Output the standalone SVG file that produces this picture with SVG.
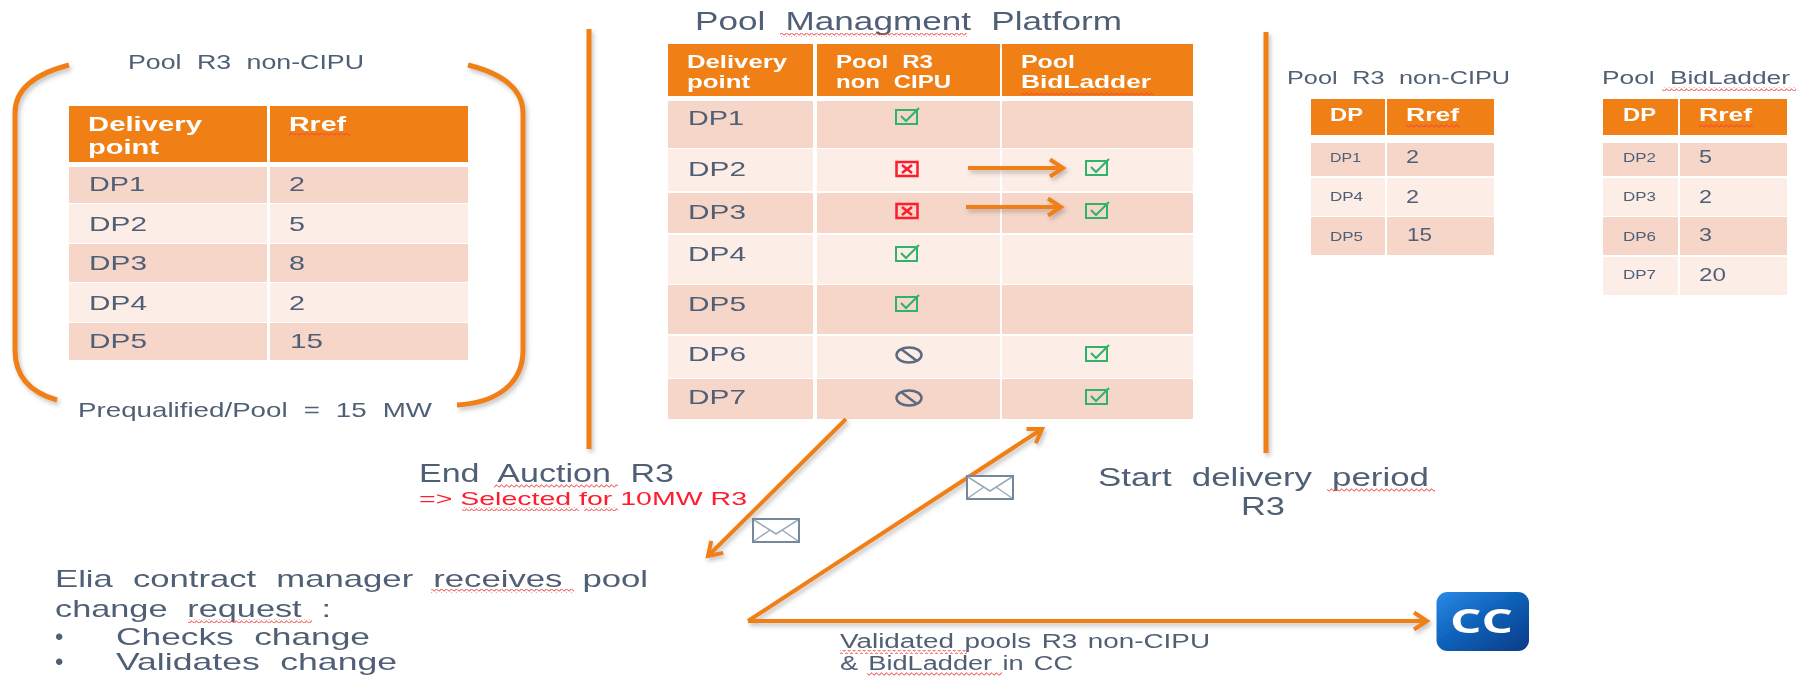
<svg xmlns="http://www.w3.org/2000/svg" width="1801" height="676" viewBox="0 0 1801 676">
<style>
text{font-family:"Liberation Sans",Arial,sans-serif;fill:#505f74;word-spacing:.3em}
.h{fill:#fff;font-weight:bold}
.r{fill:#ff1a2e}
.o{fill:#f08019}
.d{fill:#f7d6ca}
.l{fill:#fcede7}
.ln{fill:none;stroke:#f08019;stroke-width:5}
.a{fill:none;stroke:#f08019;stroke-width:4}
.s{fill:url(#wave)}
.ok{fill:none;stroke:#2fb36a;stroke-width:2}
.no{fill:none;stroke:#ff1a2e;stroke-width:2.5}
.ban{fill:none;stroke:#5c6b80;stroke-width:2.500}
.env{fill:#fff;stroke:#75879b;stroke-width:2}
.env2{fill:none;stroke:#9aa9ba;stroke-width:1.5}
</style>
<defs>
<pattern id="wave" patternUnits="userSpaceOnUse" width="5" height="4"><path d="M0 2.8Q1.25 -.6 2.5 1.6T5 2.8" fill="none" stroke="#f0443f" stroke-width="1"/></pattern>
<marker id="ar" markerUnits="userSpaceOnUse" markerWidth="24" markerHeight="24" refX="17" refY="12" orient="auto"><path d="M4 3.5L17 12L4 20.5" fill="none" stroke="#f08019" stroke-width="4"/></marker>
<filter id="b" x="-5%" y="-5%" width="110%" height="110%"><feGaussianBlur stdDeviation="0.55"/></filter>
<filter id="sh" x="-10%" y="-10%" width="120%" height="120%"><feDropShadow dx="2" dy="3" stdDeviation="2" flood-color="#555" flood-opacity=".35"/></filter>
<linearGradient id="cc" x1="0" y1="0" x2="1" y2="1"><stop offset="0" stop-color="#2a8ae6"/><stop offset=".45" stop-color="#0f63bb"/><stop offset="1" stop-color="#063a86"/></linearGradient>
<path id="okb" d="M-11 -7H10V7H-11ZM-6 -1L-1 4L12 -9"/>
<g id="nob"><rect x="-10.500" y="-7" width="21" height="14" class="no"/><path d="M-5 -4L5 4M5 -4L-5 4" class="no"/></g>
<g id="banb"><ellipse rx="12.500" ry="7.500" class="ban"/><path d="M-8 -6L8 6" class="ban"/></g>
<g id="envb"><rect width="46" height="23" class="env"/><path d="M1 1L23 15L45 1M1 22L17 11M45 22L29 11" class="env2"/></g>
</defs>
<g filter="url(#b)">
<g id="table-pool-r3">
<rect class="o" x="69" y="106" width="198" height="56"/><rect class="o" x="270" y="106" width="198" height="56"/>
<rect class="d" x="69" y="167" width="198" height="36"/><rect class="d" x="270" y="167" width="198" height="36"/>
<rect class="l" x="69" y="204" width="198" height="39"/><rect class="l" x="270" y="204" width="198" height="39"/>
<rect class="d" x="69" y="244" width="198" height="38"/><rect class="d" x="270" y="244" width="198" height="38"/>
<rect class="l" x="69" y="283" width="198" height="39"/><rect class="l" x="270" y="283" width="198" height="39"/>
<rect class="d" x="69" y="323" width="198" height="37"/><rect class="d" x="270" y="323" width="198" height="37"/>
<text x="128" y="69" font-size="21" textLength="236" lengthAdjust="spacingAndGlyphs">Pool R3 non-CIPU</text>
<text class="h" x="88" y="131" font-size="21" textLength="114" lengthAdjust="spacingAndGlyphs">Delivery</text>
<text class="h" x="88" y="154" font-size="21" textLength="71" lengthAdjust="spacingAndGlyphs">point</text>
<text class="h" x="289" y="131" font-size="21" textLength="57" lengthAdjust="spacingAndGlyphs">Rref</text>
<rect class="s" x="289" y="133" width="61" height="4"/>
<g font-size="21">
<text x="89" y="191" textLength="56" lengthAdjust="spacingAndGlyphs">DP1</text><text x="289" y="191" textLength="16" lengthAdjust="spacingAndGlyphs">2</text>
<text x="89" y="231" textLength="58" lengthAdjust="spacingAndGlyphs">DP2</text><text x="289" y="231" textLength="16" lengthAdjust="spacingAndGlyphs">5</text>
<text x="89" y="270" textLength="58" lengthAdjust="spacingAndGlyphs">DP3</text><text x="289" y="270" textLength="16" lengthAdjust="spacingAndGlyphs">8</text>
<text x="89" y="310" textLength="58" lengthAdjust="spacingAndGlyphs">DP4</text><text x="289" y="310" textLength="16" lengthAdjust="spacingAndGlyphs">2</text>
<text x="89" y="348" textLength="58" lengthAdjust="spacingAndGlyphs">DP5</text><text x="290" y="348" textLength="33" lengthAdjust="spacingAndGlyphs">15</text>
</g>
<text x="78" y="417" font-size="21" textLength="354" lengthAdjust="spacingAndGlyphs">Prequalified/Pool = 15 MW</text>
</g>
<g id="table-platform">
<text x="695" y="30" font-size="25" textLength="427" lengthAdjust="spacingAndGlyphs">Pool Managment Platform</text>
<rect class="s" x="780" y="33" width="187" height="4"/>
<rect class="o" x="668" y="44" width="145" height="52"/><rect class="o" x="817" y="44" width="183" height="52"/><rect class="o" x="1002" y="44" width="191" height="52"/>
<rect class="d" x="668" y="101" width="145" height="47"/><rect class="d" x="817" y="101" width="183" height="47"/><rect class="d" x="1002" y="101" width="191" height="47"/>
<rect class="l" x="668" y="149" width="145" height="42"/><rect class="l" x="817" y="149" width="183" height="42"/><rect class="l" x="1002" y="149" width="191" height="42"/>
<rect class="d" x="668" y="193" width="145" height="40"/><rect class="d" x="817" y="193" width="183" height="40"/><rect class="d" x="1002" y="193" width="191" height="40"/>
<rect class="l" x="668" y="235" width="145" height="49"/><rect class="l" x="817" y="235" width="183" height="49"/><rect class="l" x="1002" y="235" width="191" height="49"/>
<rect class="d" x="668" y="285" width="145" height="49"/><rect class="d" x="817" y="285" width="183" height="49"/><rect class="d" x="1002" y="285" width="191" height="49"/>
<rect class="l" x="668" y="336" width="145" height="42"/><rect class="l" x="817" y="336" width="183" height="42"/><rect class="l" x="1002" y="336" width="191" height="42"/>
<rect class="d" x="668" y="379" width="145" height="40"/><rect class="d" x="817" y="379" width="183" height="40"/><rect class="d" x="1002" y="379" width="191" height="40"/>
<g font-size="19">
<text class="h" x="687" y="68" textLength="100" lengthAdjust="spacingAndGlyphs">Delivery</text>
<text class="h" x="687" y="88" textLength="63" lengthAdjust="spacingAndGlyphs">point</text>
<text class="h" x="836" y="68" textLength="97" lengthAdjust="spacingAndGlyphs">Pool R3</text>
<text class="h" x="836" y="88" textLength="115" lengthAdjust="spacingAndGlyphs">non CIPU</text>
<text class="h" x="1021" y="68" textLength="54" lengthAdjust="spacingAndGlyphs">Pool</text>
<text class="h" x="1021" y="88" textLength="130" lengthAdjust="spacingAndGlyphs">BidLadder</text>
</g>
<rect class="s" x="1021" y="91" width="133" height="4"/>
<g font-size="21">
<text x="688" y="125" textLength="56" lengthAdjust="spacingAndGlyphs">DP1</text>
<text x="688" y="176" textLength="58" lengthAdjust="spacingAndGlyphs">DP2</text>
<text x="688" y="219" textLength="58" lengthAdjust="spacingAndGlyphs">DP3</text>
<text x="688" y="261" textLength="58" lengthAdjust="spacingAndGlyphs">DP4</text>
<text x="688" y="311" textLength="58" lengthAdjust="spacingAndGlyphs">DP5</text>
<text x="688" y="361" textLength="58" lengthAdjust="spacingAndGlyphs">DP6</text>
<text x="688" y="404" textLength="58" lengthAdjust="spacingAndGlyphs">DP7</text>
</g>
<g class="ok">
<use href="#okb" x="907" y="117"/><use href="#okb" x="907" y="254"/><use href="#okb" x="907" y="304"/>
<use href="#okb" x="1097" y="168"/><use href="#okb" x="1097" y="211"/><use href="#okb" x="1097" y="354"/><use href="#okb" x="1097" y="397"/>
</g>
<use href="#nob" x="907" y="169"/><use href="#nob" x="907" y="211"/>
<use href="#banb" x="909" y="355"/><use href="#banb" x="909" y="398"/>
</g>
<g id="table-result-r3">
<text x="1287" y="84" font-size="18" textLength="223" lengthAdjust="spacingAndGlyphs">Pool R3 non-CIPU</text>
<rect class="o" x="1311" y="99" width="74" height="36"/><rect class="o" x="1387" y="99" width="107" height="36"/>
<rect class="d" x="1311" y="143" width="74" height="33"/><rect class="d" x="1387" y="143" width="107" height="33"/>
<rect class="l" x="1311" y="178" width="74" height="38"/><rect class="l" x="1387" y="178" width="107" height="38"/>
<rect class="d" x="1311" y="217" width="74" height="38"/><rect class="d" x="1387" y="217" width="107" height="38"/>
<text class="h" x="1330" y="121" font-size="18" textLength="33" lengthAdjust="spacingAndGlyphs">DP</text>
<text class="h" x="1406" y="121" font-size="18" textLength="53" lengthAdjust="spacingAndGlyphs">Rref</text>
<rect class="s" x="1406" y="124" width="54" height="4"/>
<text x="1330" y="162" font-size="13" textLength="31" lengthAdjust="spacingAndGlyphs">DP1</text><text x="1406" y="163" font-size="18" textLength="13" lengthAdjust="spacingAndGlyphs">2</text>
<text x="1330" y="201" font-size="13" textLength="33" lengthAdjust="spacingAndGlyphs">DP4</text><text x="1406" y="203" font-size="18" textLength="13" lengthAdjust="spacingAndGlyphs">2</text>
<text x="1330" y="241" font-size="13" textLength="33" lengthAdjust="spacingAndGlyphs">DP5</text><text x="1407" y="241" font-size="18" textLength="25" lengthAdjust="spacingAndGlyphs">15</text>
</g>
<g id="table-result-bidladder">
<text x="1602" y="84" font-size="18" textLength="188" lengthAdjust="spacingAndGlyphs">Pool BidLadder</text>
<rect class="s" x="1662" y="87" width="134" height="4"/>
<rect class="o" x="1603" y="99" width="75" height="36"/><rect class="o" x="1680" y="99" width="107" height="36"/>
<rect class="d" x="1603" y="143" width="75" height="33"/><rect class="d" x="1680" y="143" width="107" height="33"/>
<rect class="l" x="1603" y="178" width="75" height="38"/><rect class="l" x="1680" y="178" width="107" height="38"/>
<rect class="d" x="1603" y="217" width="75" height="38"/><rect class="d" x="1680" y="217" width="107" height="38"/>
<rect class="l" x="1603" y="257" width="75" height="38"/><rect class="l" x="1680" y="257" width="107" height="38"/>
<text class="h" x="1623" y="121" font-size="18" textLength="33" lengthAdjust="spacingAndGlyphs">DP</text>
<text class="h" x="1699" y="121" font-size="18" textLength="53" lengthAdjust="spacingAndGlyphs">Rref</text>
<rect class="s" x="1699" y="124" width="54" height="4"/>
<text x="1623" y="162" font-size="13" textLength="33" lengthAdjust="spacingAndGlyphs">DP2</text><text x="1699" y="163" font-size="18" textLength="13" lengthAdjust="spacingAndGlyphs">5</text>
<text x="1623" y="201" font-size="13" textLength="33" lengthAdjust="spacingAndGlyphs">DP3</text><text x="1699" y="203" font-size="18" textLength="13" lengthAdjust="spacingAndGlyphs">2</text>
<text x="1623" y="241" font-size="13" textLength="33" lengthAdjust="spacingAndGlyphs">DP6</text><text x="1699" y="241" font-size="18" textLength="13" lengthAdjust="spacingAndGlyphs">3</text>
<text x="1623" y="279" font-size="13" textLength="33" lengthAdjust="spacingAndGlyphs">DP7</text><text x="1699" y="281" font-size="18" textLength="27" lengthAdjust="spacingAndGlyphs">20</text>
</g>
<g id="connectors" filter="url(#sh)">
<path class="ln" d="M69 65C38 73 15 88 15 113V350C15 378 32 393 57 400"/>
<path class="ln" d="M468 65C500 73 523 88 523 113V350C523 385 495 403 457 405"/>
<path class="ln" d="M589 29V449M1266 32V453"/>
<path class="a" marker-end="url(#ar)" d="M968 168H1063"/>
<path class="a" marker-end="url(#ar)" d="M966 207H1061"/>
<path class="a" marker-end="url(#ar)" d="M846 419L708 556"/>
<path class="a" marker-end="url(#ar)" d="M748 621L1042 429"/>
<path class="a" marker-end="url(#ar)" d="M748 621H1427"/>
</g>
<g id="label-end-auction">
<text x="419" y="482" font-size="25" textLength="255" lengthAdjust="spacingAndGlyphs">End Auction R3</text>
<rect class="s" x="494" y="484" width="124" height="4"/>
<text class="r" x="419" y="505" font-size="19" textLength="328" lengthAdjust="spacingAndGlyphs" style="word-spacing:0">=&gt; Selected for 10MW R3</text>
<rect class="s" x="462" y="507" width="117" height="4"/><rect class="s" x="584" y="507" width="34" height="4"/>
</g>
<g id="label-contract-manager" font-size="24">
<text x="55" y="587" textLength="593" lengthAdjust="spacingAndGlyphs">Elia contract manager receives pool</text>
<rect class="s" x="431" y="589" width="143" height="4"/>
<text x="55" y="617" textLength="276" lengthAdjust="spacingAndGlyphs">change request :</text>
<rect class="s" x="188" y="619" width="124" height="4"/>
<text x="55" y="645">•</text><text x="116" y="645" textLength="254" lengthAdjust="spacingAndGlyphs">Checks change</text>
<text x="55" y="670">•</text><text x="116" y="670" textLength="281" lengthAdjust="spacingAndGlyphs">Validates change</text>
</g>
<g id="label-start-delivery" font-size="25">
<text x="1098" y="486" textLength="331" lengthAdjust="spacingAndGlyphs">Start delivery period</text>
<rect class="s" x="1327" y="488" width="108" height="4"/>
<text x="1241" y="515" textLength="44" lengthAdjust="spacingAndGlyphs">R3</text>
</g>
<g id="label-validated" font-size="20">
<text x="840" y="648" textLength="370" lengthAdjust="spacingAndGlyphs" style="word-spacing:.1em">Validated pools R3 non-CIPU</text>
<rect class="s" x="840" y="650" width="127" height="4"/>
<text x="840" y="670" textLength="233" lengthAdjust="spacingAndGlyphs" style="word-spacing:.1em">&amp; BidLadder in CC</text>
<rect class="s" x="867" y="672" width="135" height="4"/>
</g>
<g id="envelope-1"><use href="#envb" x="753" y="519"/></g>
<g id="envelope-2"><use href="#envb" x="967" y="476"/></g>
<g id="node-cc">
<rect x="1436.500" y="592" width="92.500" height="59" rx="11" fill="url(#cc)"/>
<text x="1450" y="633" font-size="34" font-weight="bold" style="fill:#fff;font-family:'Open Sans',sans-serif" textLength="63" lengthAdjust="spacingAndGlyphs">CC</text>
</g>
</g>
</svg>
